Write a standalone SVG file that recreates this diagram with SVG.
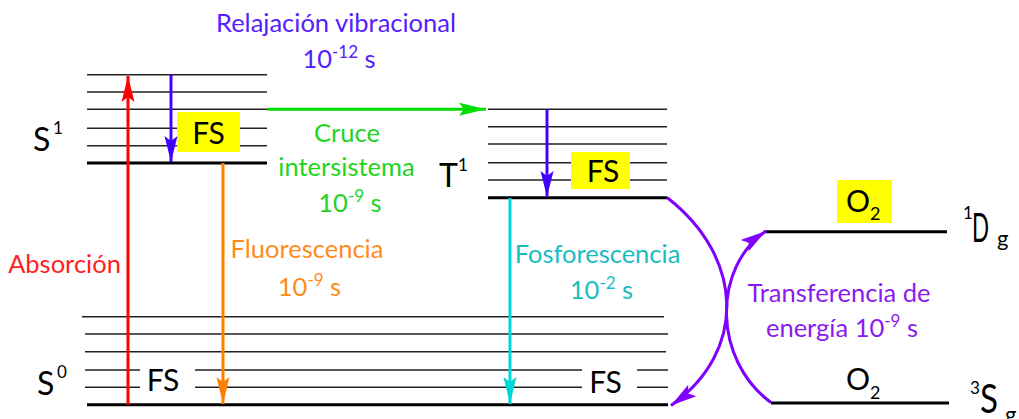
<svg xmlns="http://www.w3.org/2000/svg" width="1019" height="419" viewBox="0 0 1019 419">
<style>
text{font-family:Lato,"Open Sans","Liberation Sans",sans-serif}
.lv{stroke:#222;stroke-width:1.6;fill:none}
.lvb{stroke:#000;stroke-width:3;fill:none}
.box{fill:#FFFF00}
.big{font-size:32px;fill:#000}
.sup{font-size:17px;fill:#000}
.fs{font-size:30px;fill:#000;text-anchor:middle}
.lbl{font-size:25.5px;text-anchor:middle}
.arr{fill:none;stroke-width:3}
</style>
<defs>
<marker id="mR" markerUnits="userSpaceOnUse" viewBox="-28 -8 30 16" refX="0" refY="0" markerWidth="30" markerHeight="16" orient="auto"><path d="M0,0 L-26,-6.5 L-21,0 L-26,6.5 Z" fill="#FF0000"/></marker>
<marker id="mB" markerUnits="userSpaceOnUse" viewBox="-28 -8 30 16" refX="0" refY="0" markerWidth="30" markerHeight="16" orient="auto"><path d="M0,0 L-26,-6.5 L-21,0 L-26,6.5 Z" fill="#4400FF"/></marker>
<marker id="mG" markerUnits="userSpaceOnUse" viewBox="-28 -8 30 16" refX="0" refY="0" markerWidth="30" markerHeight="16" orient="auto"><path d="M0,0 L-27,-6.5 L-22,0 L-27,6.5 Z" fill="#00DD00"/></marker>
<marker id="mO" markerUnits="userSpaceOnUse" viewBox="-28 -8 30 16" refX="0" refY="0" markerWidth="30" markerHeight="16" orient="auto"><path d="M0,0 L-27,-6.5 L-22,0 L-27,6.5 Z" fill="#FF8000"/></marker>
<marker id="mC" markerUnits="userSpaceOnUse" viewBox="-28 -8 30 16" refX="0" refY="0" markerWidth="30" markerHeight="16" orient="auto"><path d="M0,0 L-27,-6.5 L-22,0 L-27,6.5 Z" fill="#00D8D8"/></marker>
<marker id="mP" markerUnits="userSpaceOnUse" viewBox="-28 -8 30 16" refX="0" refY="0" markerWidth="30" markerHeight="16" orient="auto"><path d="M0,0 L-26,-7 L-21,0 L-26,7 Z" fill="#8000FF"/></marker>
</defs>

<g id="S1">
<path class="lv" d="M87,74.7H267M87,92H267M87,109.3H267M87,128.3H267M87,145.7H267"/>
<path class="lvb" d="M87,163H267"/>
<rect class="box" x="177" y="112" width="63" height="40"/>
<text class="fs" x="208.5" y="143.5">FS</text>
<text class="big" x="33" y="151">S</text><text class="sup" x="53" y="134">1</text>
</g>

<g id="T1">
<path class="lv" d="M488,109.3H667M488,126.7H667M488,144H667M488,162.7H667M488,180H667"/>
<path class="lvb" d="M488,197.7H667"/>
<rect class="box" x="571" y="152" width="59" height="37"/>
<text class="fs" x="603" y="182">FS</text>
<text class="big" x="439" y="187">T</text><text class="sup" x="458" y="171">1</text>
</g>

<g id="S0">
<path class="lv" d="M82,316.7H664M85,334H668M85,351.7H666M85,370H140M195,370H582M637,370H668M85,387.3H140M195,387.3H582M637,387.3H668"/>
<path class="lvb" d="M87,404.7H668"/>
<text class="fs" x="163" y="391">FS</text>
<text class="fs" x="605.5" y="393">FS</text>
<text class="big" x="37" y="395">S</text><text class="sup" x="57" y="378">0</text>
</g>

<g id="O2-singlet">
<path class="lvb" d="M765,231.7H947"/>
<rect class="box" x="837" y="180" width="55" height="43"/>
<text x="846" y="211.5" style="font-size:30px;fill:#000">O<tspan dy="8.5" style="font-size:18px">2</tspan></text>
<text class="sup" x="963" y="219">1</text>
<text x="972" y="242" style="font-size:40px;fill:#000" textLength="17" lengthAdjust="spacingAndGlyphs">D</text>
<text x="997" y="246" style="font-size:22px;fill:#000">g</text>
</g>

<g id="O2-triplet">
<path class="lvb" d="M771,403H949"/>
<text x="846" y="390" style="font-size:30px;fill:#000">O<tspan dy="8.5" style="font-size:18px">2</tspan></text>
<text class="sup" x="970" y="394">3</text>
<text x="980" y="413" style="font-size:40px;fill:#000" textLength="18" lengthAdjust="spacingAndGlyphs">S</text>
<text x="1005" y="422" style="font-size:22px;fill:#000">g</text>
</g>

<g id="connectors">
<path class="arr" stroke="#FF0000" d="M128,404.7V76" marker-end="url(#mR)"/>
<path class="arr" stroke="#4400FF" d="M171,74.7V162" marker-end="url(#mB)"/>
<path class="arr" stroke="#00DD00" d="M267,109.3H486" marker-end="url(#mG)"/>
<path class="arr" stroke="#4400FF" d="M547,109.3V197" marker-end="url(#mB)"/>
<path class="arr" stroke="#FF8000" d="M223,163V404" marker-end="url(#mO)"/>
<path class="arr" stroke="#00D8D8" d="M510,198V404" marker-end="url(#mC)"/>
<path class="arr" stroke="#8000FF" d="M667,197.5C745,258 747,352 671,405.5" marker-end="url(#mP)"/>
<path class="arr" stroke="#8000FF" d="M771,402.5C713,360 712,268 766,231" marker-end="url(#mP)"/>
</g>

<g id="labels">
<text class="lbl" fill="#5520FF" x="336" y="32">Relajación vibracional</text>
<text class="lbl" fill="#5520FF" x="339" y="68">10<tspan dy="-10" style="font-size:17px">-12</tspan><tspan dy="10"> s</tspan></text>
<text class="lbl" fill="#1ED41E" x="347" y="142">Cruce</text>
<text class="lbl" fill="#1ED41E" x="346.5" y="176">intersistema</text>
<text class="lbl" fill="#1ED41E" x="350" y="212">10<tspan dy="-10" style="font-size:17px">-9</tspan><tspan dy="10"> s</tspan></text>
<text class="lbl" fill="#FF2020" x="64.5" y="273">Absorción</text>
<text class="lbl" fill="#FF8C1A" x="307" y="258">Fluorescencia</text>
<text class="lbl" fill="#FF8C1A" x="309.5" y="296">10<tspan dy="-10" style="font-size:17px">-9</tspan><tspan dy="10"> s</tspan></text>
<text class="lbl" fill="#1ABCC4" x="597.5" y="263">Fosforescencia</text>
<text class="lbl" fill="#1ABCC4" x="601.5" y="299">10<tspan dy="-10" style="font-size:17px">-2</tspan><tspan dy="10"> s</tspan></text>
<text class="lbl" fill="#8B1AF0" x="839" y="302">Transferencia de</text>
<text class="lbl" fill="#8B1AF0" x="842" y="337">energía 10<tspan dy="-10" style="font-size:17px">-9</tspan><tspan dy="10"> s</tspan></text>
</g>
</svg>
